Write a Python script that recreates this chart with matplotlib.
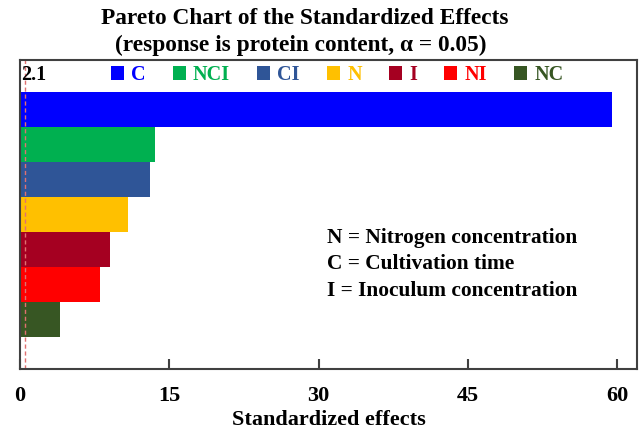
import matplotlib
matplotlib.use("Agg")
import matplotlib.pyplot as plt
from matplotlib.patches import Patch

# Data (top to bottom as drawn)
terms = ["C", "NCI", "CI", "N", "I", "NI", "NC"]
effects = [59.5, 13.6, 13.1, 10.9, 9.0, 8.0, 4.0]
colors = ["#0000FF", "#00B050", "#2F5597", "#FFC000", "#A50021", "#FF0000", "#375623"]
ref_label = "2.1"
ref_line_x = 0.55
xticks = [0, 15, 30, 45, 60]
notes = ["N = Nitrogen concentration", "C = Cultivation time", "I = Inoculum concentration"]

plt.rcParams['font.family'] = ['Liberation Serif', 'DejaVu Serif']
plt.rcParams['font.weight'] = 'bold'

fig = plt.figure(figsize=(6.4, 4.33), dpi=100)
ax = fig.add_axes([20/640, 1 - 369/433, 617/640, 309/433])

n = len(terms)
ypos = list(range(n - 1, -1, -1))
ax.barh(ypos, effects, height=1.0, color=colors, edgecolor='none')

ax.axvline(ref_line_x, color='#E07070', linestyle='--', linewidth=1.0, dashes=(3, 2))

ax.set_xlim(0, 62)
ax.set_ylim(-1.41, n - 0.5 + 0.9)
ax.set_yticks([])
ax.set_xticks(xticks)
ax.set_xticklabels([str(t) for t in xticks], fontsize=16, fontweight='bold')
ax.tick_params(axis='x', direction='in', length=7, width=1.5, pad=12, colors='#404040', labelcolor='black')

for s in ax.spines.values():
    s.set_color('#404040')
    s.set_linewidth(1.5)

ax.set_xlabel("Standardized effects", fontsize=16, fontweight='bold', va='center')
ax.xaxis.set_label_coords(0.5, -(420 - 369) / 309)

# reference label
ax.text(0.002, 0.951, ref_label, transform=ax.transAxes, ha='left', va='center',
        fontsize=14.5, fontweight='bold', color='black')

# legend
handles = [Patch(facecolor=c, edgecolor='none') for c in colors]
leg = ax.legend(handles, terms, ncol=n, loc='center', bbox_to_anchor=(0.514, 0.951),
                frameon=False, fontsize=14.5, handlelength=0.65, handleheight=0.65,
                handletextpad=0.35, columnspacing=1.35, borderpad=0, borderaxespad=0)
for t, c in zip(leg.get_texts(), colors):
    t.set_color(c)
    t.set_fontweight('bold')

# notes
note_y = [238, 264, 291]
for line, yy in zip(notes, note_y):
    fig.text(327/640, 1 - yy/433, line, ha='left', va='center',
             fontsize=15.4, fontweight='bold')

fig.text(305/640, 1 - 18/433, "Pareto Chart of the Standardized Effects",
         ha='center', va='center', fontsize=16.8, fontweight='bold')
fig.text(301/640, 1 - 45/433, "(response is protein content, \u03b1 = 0.05)",
         ha='center', va='center', fontsize=16.8, fontweight='bold')

fig.savefig("out.png", dpi=100)
